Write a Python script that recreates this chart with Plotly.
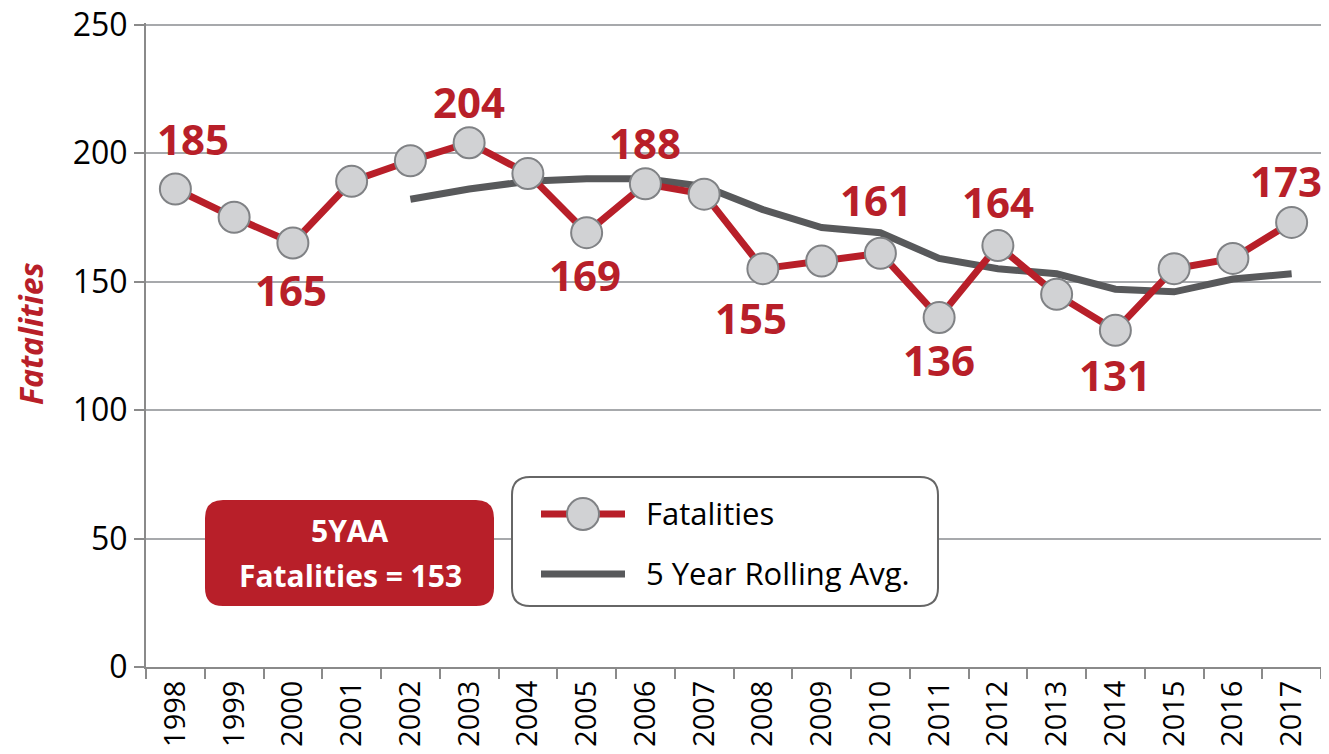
import plotly.graph_objects as go

years = [str(y) for y in range(1998, 2018)]
fatalities = [186, 175, 165, 189, 197, 204, 192, 169, 188, 184,
              155, 158, 161, 136, 164, 145, 131, 155, 159, 173]
rolling_avg = [None, None, None, None, 182, 186, 189, 190, 190, 187,
               178, 171, 169, 159, 155, 153, 147, 146, 151, 153]
label_years = ['1998', '2000', '2003', '2005', '2006', '2008', '2010', '2011', '2012', '2014', '2017']
label_values = [185, 165, 204, 169, 188, 155, 161, 136, 164, 131, 173]
y_ticks = [0, 50, 100, 150, 200, 250]
fiveyaa = 153

# label offsets in px (dx, dy) relative to the marker
label_offsets = [(18, 51), (-2, -47), (0, 41), (-2, -42), (0, 41), (-12, -49),
                 (-4, 54), (0, -42), (0, 44), (0, -44), (-6, 42)]

RED = '#B81F29'
DARK = '#58595B'
FONT = 'Open Sans'

# the page body has an 8px margin, so the figure is shifted by 8px
OFF = 8
W, H = 1321, 746
ML, MR, MT, MB = 138, 8, 15, 87
PW, PH = W - ML - MR, H - MT - MB


def px(x, y):
    # screen pixel -> paper coords
    return (x - OFF - ML) / PW, (OFF + H - MB - y) / PH


def rounded_rect(x0, y0, x1, y1, r):
    def p(x, y):
        a, b = px(x, y)
        return f'{a:.5f},{b:.5f}'
    return (f'M{p(x0 + r, y0)} L{p(x1 - r, y0)} Q{p(x1, y0)} {p(x1, y0 + r)} '
            f'L{p(x1, y1 - r)} Q{p(x1, y1)} {p(x1 - r, y1)} '
            f'L{p(x0 + r, y1)} Q{p(x0, y1)} {p(x0, y1 - r)} '
            f'L{p(x0, y0 + r)} Q{p(x0, y0)} {p(x0 + r, y0)} Z')


def text_at(sx, sy, txt, size, color, anchor='center', angle=0):
    a, b = px(sx, sy)
    fig.add_annotation(xref='paper', yref='paper', x=a, y=b, xanchor=anchor, yanchor='middle',
                       showarrow=False, text=txt, textangle=angle,
                       font=dict(family=FONT, size=size, color=color))


fig = go.Figure()

fig.add_trace(go.Scatter(x=years, y=rolling_avg, mode='lines', name='5 Year Rolling Avg.',
                         line=dict(color=DARK, width=7), connectgaps=False))
fig.add_trace(go.Scatter(x=years, y=fatalities, mode='lines+markers', name='Fatalities',
                         line=dict(color=RED, width=7),
                         marker=dict(size=31, color='#D1D2D4', line=dict(color='#808285', width=2))))

for yr, val, (dx, dy) in zip(label_years, label_values, label_offsets):
    i = years.index(yr)
    fig.add_annotation(x=i, y=fatalities[i], text=f'<b>{val}</b>',
                       showarrow=False, xshift=dx, yshift=dy, xanchor='center', yanchor='middle',
                       font=dict(family=FONT, size=42, color=RED))

# 5YAA box
fig.add_shape(type='path', xref='paper', yref='paper', path=rounded_rect(205, 500, 494, 606, 18),
              fillcolor=RED, line=dict(width=0), layer='above')
text_at(350, 530, '<b>5YAA</b>', 30, 'white')
text_at(350, 575, f'<b>Fatalities = {fiveyaa}</b>', 30, 'white')

# legend box
fig.add_shape(type='path', xref='paper', yref='paper', path=rounded_rect(512, 477, 938, 606, 18),
              fillcolor='white', line=dict(color='#666666', width=2), layer='above')
for yrow, color in [(514, RED), (574, DARK)]:
    a0, b0 = px(541, yrow)
    a1, b1 = px(625, yrow)
    fig.add_shape(type='line', xref='paper', yref='paper', x0=a0, y0=b0, x1=a1, y1=b1,
                  line=dict(color=color, width=7), layer='above')
m0 = px(567, 530)
m1 = px(599, 498)
fig.add_shape(type='circle', xref='paper', yref='paper', x0=m0[0], y0=m0[1], x1=m1[0], y1=m1[1],
              fillcolor='#D1D2D4', line=dict(color='#808285', width=2), layer='above')
text_at(644, 513, 'Fatalities', 31, 'black', anchor='left')
text_at(644, 573, '5 Year Rolling Avg.', 31, 'black', anchor='left')

# y axis title
text_at(30, 333, '<b><i>Fatalities</i></b>', 32, RED, angle=-90)

fig.update_layout(
    width=W, height=H,
    margin=dict(l=ML, r=MR, t=MT, b=MB),
    plot_bgcolor='white', paper_bgcolor='white',
    showlegend=False,
    font=dict(family=FONT, size=30, color='black'),
)
fig.update_xaxes(type='category', range=[-0.5, 19.5], tickangle=-90, automargin=False,
                 showline=True, linecolor='#8A8A8A', linewidth=2,
                 ticks='outside', tickson='boundaries', ticklen=10, tickwidth=2, tickcolor='#8A8A8A',
                 showgrid=False, tickfont=dict(size=29), ticklabeloverflow='allow')
fig.update_yaxes(range=[0, 250.6], tickmode='array', tickvals=y_ticks,
                 showline=True, linecolor='#8A8A8A', linewidth=2, automargin=False,
                 ticks='outside', ticklen=10, tickwidth=2, tickcolor='#8A8A8A',
                 gridcolor='#A7A9AC', gridwidth=2, zeroline=False, tickfont=dict(size=32),
                 ticklabeloverflow='allow')

fig.write_html('out.html')
